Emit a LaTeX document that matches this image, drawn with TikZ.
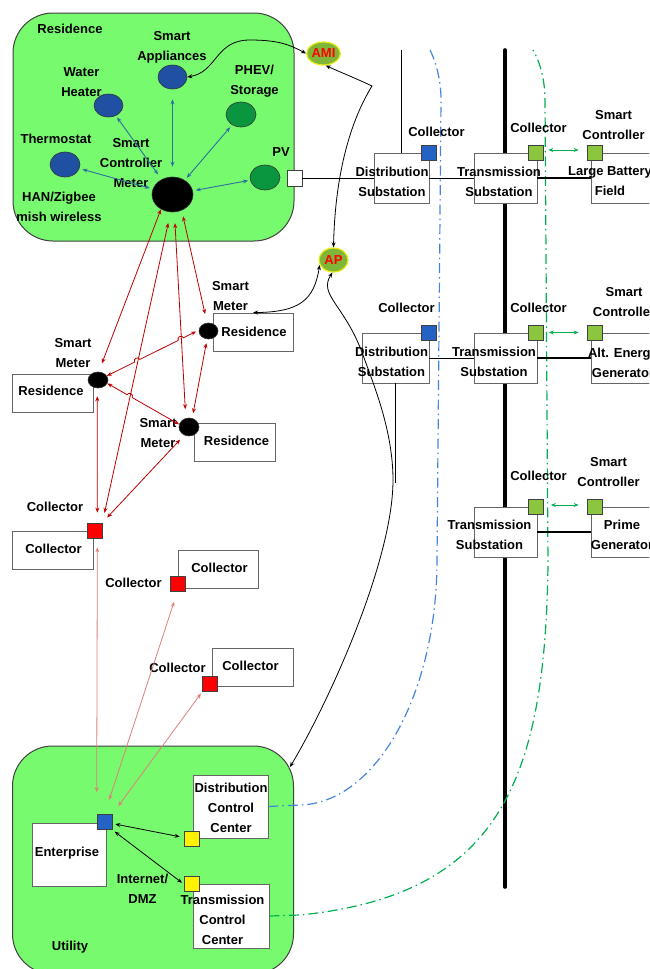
\documentclass[tikz,border=0pt]{standalone}
\usepackage{fontspec}
\setmainfont{Liberation Sans}
\usetikzlibrary{arrows.meta,calc,shapes.geometric}
\definecolor{regiongreen}{RGB}{120,250,110}
\definecolor{hanblue}{RGB}{46,112,158}
\definecolor{meshred}{RGB}{192,0,0}
\definecolor{backred}{RGB}{222,128,118}
\definecolor{sqblue}{RGB}{36,98,196}
\definecolor{sqlime}{RGB}{140,198,63}
\definecolor{ctlgreen}{RGB}{0,176,80}
\definecolor{dashblue}{RGB}{70,132,220}
\definecolor{amigreen}{RGB}{128,182,56}
\definecolor{amiyellow}{RGB}{235,235,20}
\definecolor{ellblue}{RGB}{32,80,162}
\definecolor{ellgreen}{RGB}{10,150,62}
\begin{document}
\begin{tikzpicture}[x=1pt,y=-1pt,
  lab/.style={font=\fontsize{13}{20}\selectfont\bfseries, align=center, inner sep=0pt},
  wbox/.style={draw=black!60, fill=white, line width=0.8pt, inner sep=0pt},
  sqn/.style={draw=black!75, line width=0.7pt, minimum size=15pt, inner sep=0pt},
  ell/.style={ellipse, draw=black!80, line width=0.6pt, inner sep=0pt},
  region/.style={draw=black!75, fill=regiongreen, line width=1pt, rounded corners=40pt, inner sep=0pt},
  dtip/.style={{Stealth[length=5pt,width=4pt]}-{Stealth[length=5pt,width=4pt]}},
  hanlink/.style={dtip, hanblue, line width=0.9pt},
  meshlink/.style={dtip, meshred, line width=0.8pt},
  backlink/.style={dtip, backred, line width=0.8pt},
  blink/.style={dtip, black, line width=0.8pt},
  ctllink/.style={dtip, ctlgreen, line width=0.9pt},
  ddash/.style={line width=1.2pt, dash pattern=on 10pt off 4pt on 1.5pt off 4pt},
  feeder/.style={black, line width=0.9pt},
  trunk/.style={black, line width=2.4pt},
  amistyle/.style={ellipse, fill=amigreen, draw=amiyellow, line width=1.2pt, inner sep=0pt,
     minimum width=29pt, minimum height=23pt, text=red, font=\fontsize{13}{15}\selectfont\bfseries},
]
\path[use as bounding box, clip] (0,0) rectangle (649,969);

% ---------- regions ----------
\node[region, minimum width=281pt, minimum height=228pt] (res) at (153.5,127) {};
\node[region, minimum width=281pt, minimum height=228pt] (util) at (153,860) {};

% ---------- trunk and feeders (behind boxes) ----------
\coordinate (trunktop) at (505,50);
\coordinate (trunkbot) at (505,887);
\draw[line width=3.6pt, line cap=round] (trunktop) -- (trunkbot);

% ---------- right side boxes ----------
\node[wbox, minimum width=55pt, minimum height=50pt] (ds1) at (401.5,178) {};
\node[wbox, minimum width=63pt, minimum height=50pt] (ts1) at (505.5,178) {};
\node[wbox, minimum width=79pt, minimum height=50pt] (lb) at (630.5,178) {};
\node[wbox, minimum width=67pt, minimum height=50pt] (ds2) at (395.5,358) {};
\node[wbox, minimum width=63pt, minimum height=50pt] (ts2) at (505.5,358) {};
\node[wbox, minimum width=79pt, minimum height=50pt] (ae) at (630.5,358) {};
\node[wbox, minimum width=63pt, minimum height=50pt] (ts3) at (505.5,532) {};
\node[wbox, minimum width=79pt, minimum height=50pt] (pg) at (630.5,532) {};

% ---------- dash-dot links ----------
\node[wbox, minimum width=75pt, minimum height=63pt] (dcc) at (230.5,806.5) {};
\node[wbox, minimum width=76pt, minimum height=64pt] (tcc) at (231,916) {};
\draw[ddash, dashblue] (dcc.east) -- (300,805) .. controls (376,803) and (437,694) .. (437,560)
   -- (441,100) .. controls (441,80) and (436,62) .. (430,50);
\draw[ddash, ctlgreen] (tcc.east) -- (300,915) .. controls (500,895) and (545,780) .. (548,565)
   -- (545,100) .. controls (545,80) and (540,62) .. (533,50);

% ---------- residence (HAN) ----------
\node[ell, fill=ellblue, minimum width=29pt, minimum height=24pt] (sa) at (172.5,77) {};
\node[ell, fill=ellblue, minimum width=29pt, minimum height=23pt] (wh) at (108.5,105.5) {};
\node[ell, fill=ellblue, minimum width=30pt, minimum height=25pt] (th) at (65,164.5) {};
\node[ell, fill=ellgreen, minimum width=30pt, minimum height=25pt] (phev) at (241,114.5) {};
\node[ell, fill=ellgreen, minimum width=30pt, minimum height=25pt] (pv) at (265,177.5) {};
\node[ell, fill=black, minimum width=41pt, minimum height=35pt] (meter) at (172.5,194.5) {};
\node[sqn, fill=white, minimum height=16pt] (pvsq) at (294.5,178) {};

\node[lab] at (70,29) {Residence};
\node[lab] at (172,47.5) {Smart\\Appliances};
\node[lab] at (81.5,82.5) {Water\\Heater};
\node[lab] at (254.5,81) {PHEV/\\Storage};
\node[lab] at (56,139) {Thermostat};
\node[lab] at (131,163) {Smart\\Controller\\Meter};
\node[lab] at (59,206.5) {HAN/Zigbee\\mish wireless};
\node[lab] at (281,152) {PV};

\draw[hanlink, shorten <=3pt, shorten >=3pt] (th) -- (meter);
\draw[hanlink, shorten <=2pt, shorten >=6pt] (wh) -- (meter);
\draw[hanlink, shorten <=10pt, shorten >=10pt] (sa) -- (meter);
\draw[hanlink, shorten <=3pt, shorten >=3pt] (phev) -- (meter);
\draw[hanlink, shorten <=2pt, shorten >=3pt] (pv) -- (meter);

% ---------- feeders ----------
\draw[feeder] (pvsq.east) -- (ds1.west);
\draw[feeder] (ds1.east) -- (ts1.west);
\draw[trunk] (ts1.east) -- (lb.west);
\draw[feeder] (ds1.north) -- ++(0,-103);
\draw[feeder] (ds2.east) -- (ts2.west);
\draw[trunk] (ts2.east) -- (ae.west);
\draw[feeder] (ds2.south) -- ++(0,100);
\draw[trunk] (ts3.east) -- (pg.west);

% ---------- right side squares and labels ----------
\node[sqn, fill=sqblue] (ds1sq) at (428.5,152.5) {};
\node[sqn, fill=sqlime] (ts1sq) at (535.5,153) {};
\node[sqn, fill=sqlime] (sc1sq) at (594.5,153) {};
\node[sqn, fill=sqblue] (ds2sq) at (428.5,333) {};
\node[sqn, fill=sqlime] (ts2sq) at (536,332.5) {};
\node[sqn, fill=sqlime] (sc2sq) at (594.5,332.5) {};
\node[sqn, fill=sqlime] (ts3sq) at (536,507) {};
\node[sqn, fill=sqlime] (sc3sq) at (594.5,507) {};

\node[lab] at (436.5,132) {Collector};
\node[lab] at (538.5,128) {Collector};
\node[lab] at (613.5,125) {Smart\\Controller};
\node[lab] at (392,182) {Distribution\\Substation};
\node[lab] at (499,182) {Transmission\\Substation};
\node[lab] at (610,181) {Large Battery\\Field};

\node[lab] at (406.5,308) {Collector};
\node[lab] at (538.5,308) {Collector};
\node[lab] at (624,302.5) {Smart\\Controller};
\node[lab] at (391.5,362) {Distribution\\Substation};
\node[lab] at (494,362) {Transmission\\Substation};
\node[lab] at (623,362.5) {Alt. Energy\\Generator};

\node[lab] at (538.5,476) {Collector};
\node[lab] at (608.5,472) {Smart\\Controller};
\node[lab] at (489.5,535) {Transmission\\Substation};
\node[lab] at (622,535) {Prime\\Generator};

\draw[ctllink, shorten <=5pt, shorten >=8pt] ($(ts1sq.east)+(0,-3)$) -- ($(sc1sq.west)+(0,-3)$);
\draw[ctllink, shorten <=5pt, shorten >=8pt] (ts2sq.east) -- (sc2sq.west);
\draw[ctllink, shorten <=7pt, shorten >=8pt] ($(ts3sq.east)+(0,-2)$) -- ($(sc3sq.west)+(0,-2)$);

% ---------- AMI / AP ----------
\node[amistyle] (ami) at (323.5,53.5) {AMI};
\node[amistyle, minimum height=24pt] (ap) at (333.5,260) {AP};

% ---------- middle residences ----------
\node[wbox, minimum width=80pt, minimum height=38pt] (r1) at (253,332) {};
\node[wbox, minimum width=81pt, minimum height=38pt] (r2) at (52.5,393) {};
\node[wbox, minimum width=81pt, minimum height=38pt] (r3) at (234.5,442) {};
\node[ell, fill=black, minimum width=19pt, minimum height=16pt] (m1) at (208.5,331) {};
\node[ell, fill=black, minimum width=20pt, minimum height=16pt] (m2) at (98,380) {};
\node[ell, fill=black, minimum width=20pt, minimum height=18pt] (m3) at (189,427) {};
\node[lab] at (254,332) {Residence};
\node[lab] at (51,391) {Residence};
\node[lab] at (236.5,441) {Residence};
\node[lab] at (230.5,296) {Smart\\Meter};
\node[lab] at (73,353) {Smart\\Meter};
\node[lab] at (158,433.5) {Smart\\Meter};

% ---------- collectors ----------
\node[wbox, minimum width=81pt, minimum height=38pt] (c1box) at (52.5,550) {};
\node[wbox, minimum width=80pt, minimum height=38pt] (c2box) at (218,569) {};
\node[wbox, minimum width=81pt, minimum height=38pt] (c3box) at (252.5,667) {};
\node[sqn, fill=red] (c1sq) at (94.5,530.5) {};
\node[sqn, fill=red] (c2sq) at (177.5,583.5) {};
\node[sqn, fill=red] (c3sq) at (210,684) {};
\node[lab] at (53.5,549) {Collector};
\node[lab] at (55,507) {Collector};
\node[lab] at (219.5,568) {Collector};
\node[lab] at (133.5,583) {Collector};
\node[lab] at (250.5,666) {Collector};
\node[lab] at (177.5,668) {Collector};

% ---------- mesh links ----------
\draw[meshlink, shorten >=9pt] (meter.232) -- (m2.85);
\draw[meshlink, shorten <=11pt, shorten >=10pt] (meter.264) -- (c1sq.north east);
\draw[meshlink, shorten <=11pt, shorten >=9pt] (meter.276) -- (m3.110);
\draw[meshlink, shorten <=6pt, shorten >=9pt] (meter.300) -- (m1.100);
\draw[meshlink, shorten <=3pt] (m1.175) -- ($(m1.175)!0.166!(m2.25)$)
   to[bend right=90, looseness=1.6] ($(m1.175)!0.224!(m2.25)$)
   -- ($(m1.175)!0.641!(m2.25)$)
   to[bend right=90, looseness=1.6] ($(m1.175)!0.699!(m2.25)$) -- (m2.25);
\draw[meshlink] (m2.-20) -- ($(m2.-20)!0.274!(m3.165)$)
   to[bend left=90, looseness=1.6] ($(m2.-20)!0.346!(m3.165)$) -- (m3.165);
\draw[meshlink, shorten <=4pt, shorten >=5pt] (m1.-100) -- (m3.70);
\draw[meshlink, shorten <=8pt, shorten >=10pt] (m2.-95) -- (c1sq.70);
\draw[meshlink, shorten <=6pt, shorten >=7pt] (m3.-120) -- (c1sq.north east);

% ---------- utility ----------
\node[wbox, minimum width=74pt, minimum height=63pt] (ent) at (69,854.5) {};
\node[sqn, fill=sqblue] (entsq) at (104.5,822) {};
\node[sqn, fill=yellow] (dccsq) at (191.5,839) {};
\node[sqn, fill=yellow] (tccsq) at (191.5,884) {};
\node[lab] at (67,853) {Enterprise};
\node[lab] at (231,808) {Distribution\\Control\\Center};
\node[lab] at (222.5,920) {Transmission\\Control\\Center};
\node[lab] at (142.5,888.5) {Internet/\\DMZ};
\node[lab] at (70,947) {Utility};

\draw[blink, shorten <=3pt, shorten >=4pt] (entsq) -- (dccsq);
\draw[blink, shorten <=3pt, shorten >=2pt] (entsq.south east) -- (tccsq.west);

% ---------- backhaul links ----------
\draw[backlink, shorten <=9pt, shorten >=22pt] (c1sq.-70) -- (entsq.north west);
\draw[backlink, shorten <=11pt, shorten >=15pt] (c2sq.south) -- (entsq.north);
\draw[backlink, shorten <=2pt, shorten >=10pt] (c3sq.south west) -- (entsq.north east);

% ---------- AMI / AP links ----------
\draw[blink] (sa.east) .. controls +(30,-5) and +(-35,0) .. (250,40)
   .. controls +(30,0) and +(-15,-8) .. (ami.west);
\coordinate (kink) at (372,86);
\draw[blink] (ami.-80) .. controls (340,72) and (355,78) .. (kink)
   .. controls (348,125) and (335,180) .. (ap.north);
\draw[blink] (ap.200) .. controls (314,300) and (300,312) .. (r1.north);
\coordinate (uc) at (290,767);
\draw[blink] (ap.265) .. controls (318,295) and (345,305) .. (363,355)
   .. controls (373,383) and (393,430) .. (393,480)
   .. controls (393,560) and (330,700) .. (uc);
\end{tikzpicture}
\end{document}
